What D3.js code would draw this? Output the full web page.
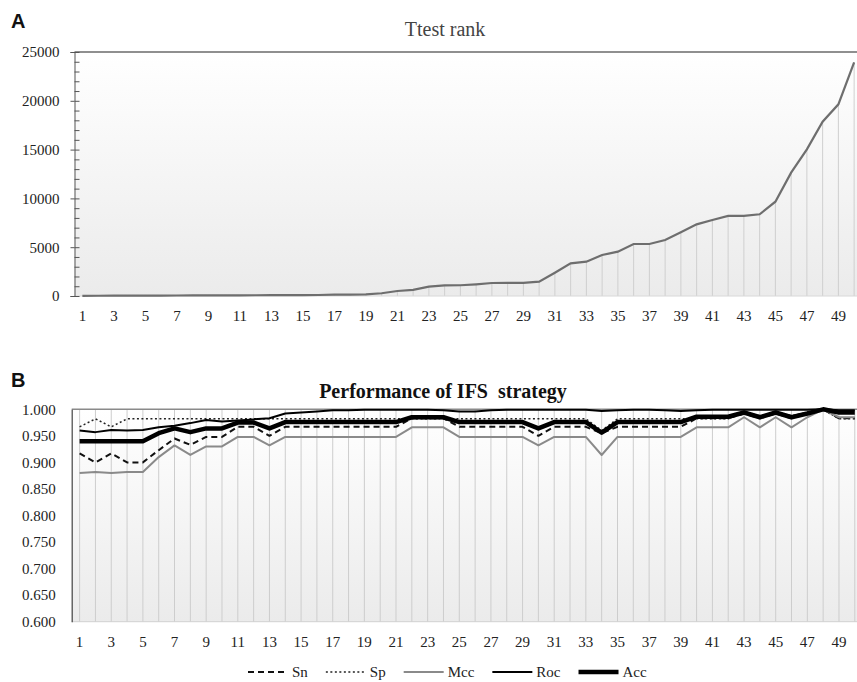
<!DOCTYPE html>
<html>
<head>
<meta charset="utf-8">
<script src="https://cdn.jsdelivr.net/npm/d3@7"></script>
<style>
  body { margin: 0; background: #fff; }
  svg { display: block; }
  svg text { font-family: "Liberation Serif", "Times New Roman", serif; }
  svg text.panel { font-family: "Liberation Sans", Arial, sans-serif; }
</style>
</head>
<body>
<svg id="chart" width="857" height="682"></svg>
<script>
// Number of selected features (x categories).
const features = d3.range(1, 51);

// Panel A: t-test rank of each feature.
const ttestRank = [20, 25, 30, 35, 40, 45, 50, 55, 60, 65,
  70, 75, 80, 85, 90, 100, 140, 150, 160, 280,
  510, 620, 960, 1090, 1100, 1200, 1330, 1340, 1350, 1470,
  2390, 3350, 3520, 4200, 4540, 5330, 5330, 5740, 6520, 7340,
  7790, 8200, 8200, 8370, 9660, 12640, 15030, 17860, 19640, 23940];

// Panel B: performance measures.
const sn = [0.917, 0.900, 0.917, 0.900, 0.900, 0.923, 0.945, 0.933, 0.948, 0.948,
  0.967, 0.967, 0.950, 0.967, 0.967, 0.967, 0.967, 0.967, 0.967, 0.967,
  0.967, 0.983, 0.983, 0.983, 0.967, 0.967, 0.967, 0.967, 0.967, 0.950,
  0.967, 0.967, 0.967, 0.955, 0.967, 0.967, 0.967, 0.967, 0.967, 0.983,
  0.983, 0.983, 0.992, 0.983, 0.992, 0.983, 0.992, 1.000, 0.983, 0.983];
const sp = [0.967, 0.982, 0.967, 0.982, 0.982, 0.982, 0.982, 0.982, 0.982, 0.982,
  0.982, 0.982, 0.982, 0.982, 0.982, 0.982, 0.982, 0.982, 0.982, 0.982,
  0.982, 0.982, 0.982, 0.982, 0.982, 0.982, 0.982, 0.982, 0.982, 0.982,
  0.982, 0.982, 0.982, 0.960, 0.982, 0.982, 0.982, 0.982, 0.982, 0.982,
  0.982, 0.982, 0.994, 0.988, 0.994, 0.988, 0.994, 1.000, 0.982, 0.982];
const mcc = [0.880, 0.882, 0.880, 0.882, 0.882, 0.910, 0.932, 0.914, 0.930, 0.930,
  0.948, 0.948, 0.932, 0.948, 0.948, 0.948, 0.948, 0.948, 0.948, 0.948,
  0.948, 0.966, 0.966, 0.966, 0.948, 0.948, 0.948, 0.948, 0.948, 0.932,
  0.948, 0.948, 0.948, 0.914, 0.948, 0.948, 0.948, 0.948, 0.948, 0.966,
  0.966, 0.966, 0.985, 0.966, 0.985, 0.966, 0.985, 1.000, 0.985, 0.985];
const roc = [0.960, 0.957, 0.961, 0.960, 0.961, 0.966, 0.969, 0.974, 0.980, 0.977,
  0.979, 0.981, 0.983, 0.992, 0.994, 0.996, 0.998, 0.998, 0.999, 0.999,
  0.999, 0.999, 0.999, 0.998, 0.996, 0.996, 0.998, 0.999, 0.999, 0.999,
  0.999, 0.999, 0.999, 0.997, 0.998, 0.999, 0.999, 0.998, 0.997, 0.998,
  0.999, 0.999, 0.999, 0.999, 0.999, 0.999, 0.999, 1.000, 0.998, 0.998];
const acc = [0.940, 0.940, 0.940, 0.940, 0.940, 0.955, 0.964, 0.957, 0.964, 0.964,
  0.975, 0.975, 0.964, 0.976, 0.976, 0.976, 0.976, 0.976, 0.976, 0.976,
  0.976, 0.985, 0.985, 0.985, 0.976, 0.976, 0.976, 0.976, 0.976, 0.964,
  0.976, 0.976, 0.976, 0.956, 0.976, 0.976, 0.976, 0.976, 0.976, 0.986,
  0.986, 0.986, 0.994, 0.985, 0.994, 0.985, 0.992, 1.000, 0.994, 0.994];

const seriesNames = ['Sn', 'Sp', 'Mcc', 'Roc', 'Acc'];
const seriesValues = [sn, sp, mcc, roc, acc];

// Tick labels.
const yTicksA = [0, 5000, 10000, 15000, 20000, 25000];
const yTicksB = [0.6, 0.65, 0.7, 0.75, 0.8, 0.85, 0.9, 0.95, 1.0];
const xTickLabels = features.filter(d => d % 2 === 1);

// Line styles per series.
const styles = {
  Sn: { stroke: '#111', width: 2, dash: '6,4' },
  Sp: { stroke: '#222', width: 1.5, dash: '2,2.5' },
  Mcc: { stroke: '#8a8a8a', width: 2, dash: null },
  Roc: { stroke: '#000', width: 2, dash: null },
  Acc: { stroke: '#000', width: 4.5, dash: null }
};

const svg = d3.select('#chart');

// Background gradient shared by both panels.
const grad = svg.append('defs').append('linearGradient')
  .attr('id', 'bg').attr('x1', 0).attr('y1', 0).attr('x2', 0).attr('y2', 1);
grad.append('stop').attr('offset', '0%').attr('stop-color', '#ffffff');
grad.append('stop').attr('offset', '100%').attr('stop-color', '#ebebeb');

// ---------- Panel A ----------
const a = { left: 74.5, right: 862, top: 52, bottom: 296 };
const xA = d3.scaleBand().domain(features).range([a.left, a.right]);
const cxA = d => xA(d) + xA.bandwidth() / 2;
const yA = d3.scaleLinear().domain([0, 25000]).range([a.bottom, a.top]);

svg.append('rect')
  .attr('x', a.left).attr('y', a.top)
  .attr('width', a.right - a.left).attr('height', a.bottom - a.top)
  .attr('fill', 'url(#bg)');

// Drop lines under the curve.
svg.append('g').selectAll('line')
  .data(features)
  .join('line')
  .attr('x1', d => cxA(d)).attr('x2', d => cxA(d))
  .attr('y1', (d, i) => yA(ttestRank[i])).attr('y2', a.bottom)
  .attr('stroke', '#cfcfcf').attr('stroke-width', 1);

// Frame top.
svg.append('line')
  .attr('x1', a.left).attr('x2', a.right)
  .attr('y1', a.top).attr('y2', a.top)
  .attr('stroke', '#6a6a6a').attr('stroke-width', 1.5);

svg.append('line')
  .attr('x1', a.left).attr('x2', a.right)
  .attr('y1', a.bottom).attr('y2', a.bottom)
  .attr('stroke', '#d8d8d8');

svg.append('path')
  .datum(ttestRank)
  .attr('fill', 'none')
  .attr('stroke', '#6e6e6e')
  .attr('stroke-width', 2.2)
  .attr('d', d3.line().x((d, i) => cxA(features[i])).y(d => yA(d)));

// Y axis with outward majors and inward minors.
const axA = svg.append('g')
  .attr('transform', `translate(${a.left},0)`)
  .call(d3.axisLeft(yA).tickValues(yTicksA).tickSize(4).tickPadding(11).tickFormat(d3.format('d')));
axA.select('.domain').attr('stroke', '#555');
axA.selectAll('.tick line').attr('stroke', '#555');
axA.selectAll('text').attr('font-size', 15).attr('fill', '#222');
svg.append('g')
  .attr('transform', `translate(${a.left},0)`)
  .call(d3.axisRight(yA).ticks(25).tickSize(5).tickFormat(''))
  .call(g => g.select('.domain').remove())
  .call(g => g.selectAll('.tick line').attr('stroke', '#555'));

// X labels.
svg.append('g').selectAll('text')
  .data(xTickLabels)
  .join('text')
  .attr('x', d => cxA(d)).attr('y', 321)
  .attr('text-anchor', 'middle')
  .attr('font-size', 15).attr('fill', '#222')
  .text(d => d);

svg.append('text')
  .attr('x', 445).attr('y', 36)
  .attr('text-anchor', 'middle')
  .attr('font-size', 20).attr('fill', '#444')
  .text('Ttest rank');

svg.append('text')
  .attr('class', 'panel')
  .attr('x', 11).attr('y', 28)
  .attr('font-weight', 'bold').attr('font-size', 20).attr('fill', '#111')
  .text('A');

// ---------- Panel B ----------
const b = { left: 71.7, right: 862.7, top: 409.3, bottom: 621.7 };
const xB = d3.scaleBand().domain(features).range([b.left, b.right]);
const cxB = d => xB(d) + xB.bandwidth() / 2;
const yB = d3.scaleLinear().domain([0.6, 1.0]).range([b.bottom, b.top]);

svg.append('rect')
  .attr('x', b.left).attr('y', b.top)
  .attr('width', b.right - b.left).attr('height', b.bottom - b.top)
  .attr('fill', 'url(#bg)');

svg.append('g').selectAll('line')
  .data(features)
  .join('line')
  .attr('x1', d => cxB(d)).attr('x2', d => cxB(d))
  .attr('y1', b.top).attr('y2', b.bottom)
  .attr('stroke', '#cdcdcd').attr('stroke-width', 1);

svg.append('line')
  .attr('x1', b.left).attr('x2', b.right)
  .attr('y1', b.top).attr('y2', b.top)
  .attr('stroke', '#8a8a8a').attr('stroke-width', 1.5);
svg.append('line')
  .attr('x1', b.left).attr('x2', b.right)
  .attr('y1', b.bottom).attr('y2', b.bottom)
  .attr('stroke', '#d0d0d0');

const axB = svg.append('g')
  .attr('transform', `translate(${b.left},0)`)
  .call(d3.axisLeft(yB).tickValues(yTicksB).tickSize(0).tickPadding(16).tickFormat(d3.format('.3f')));
axB.select('.domain').attr('stroke', '#444').attr('stroke-width', 1.2);
axB.selectAll('text').attr('font-size', 15).attr('fill', '#222');

// Series lines.
const lineB = d3.line().x((d, i) => cxB(features[i])).y(d => yB(d));
svg.append('g').selectAll('path')
  .data(seriesNames.map((name, k) => ({ name, values: seriesValues[k] })))
  .join('path')
  .attr('fill', 'none')
  .attr('stroke', d => styles[d.name].stroke)
  .attr('stroke-width', d => styles[d.name].width)
  .attr('stroke-dasharray', d => styles[d.name].dash)
  .attr('stroke-linejoin', 'round')
  .attr('d', d => lineB(d.values));

svg.append('g').selectAll('text')
  .data(xTickLabels)
  .join('text')
  .attr('x', d => cxB(d)).attr('y', 647)
  .attr('text-anchor', 'middle')
  .attr('font-size', 15).attr('fill', '#222')
  .text(d => d);

svg.append('text')
  .attr('x', 443).attr('y', 398)
  .attr('text-anchor', 'middle')
  .attr('font-size', 20).attr('font-weight', 'bold').attr('fill', '#111')
  .attr('xml:space', 'preserve')
  .text('Performance of IFS  strategy');

svg.append('text')
  .attr('class', 'panel')
  .attr('x', 11).attr('y', 387)
  .attr('font-weight', 'bold').attr('font-size', 20).attr('fill', '#111')
  .text('B');

// Legend.
const legend = svg.append('g');
let lx = 248;
seriesNames.forEach(name => {
  const s = styles[name];
  legend.append('line')
    .attr('x1', lx).attr('x2', lx + 40)
    .attr('y1', 672).attr('y2', 672)
    .attr('stroke', s.stroke).attr('stroke-width', s.width)
    .attr('stroke-dasharray', s.dash);
  const t = legend.append('text')
    .attr('x', lx + 44).attr('y', 677)
    .attr('font-size', 15).attr('fill', '#222')
    .text(name);
  lx += 44 + t.node().getComputedTextLength() + 18;
});
</script>
</body>
</html>
